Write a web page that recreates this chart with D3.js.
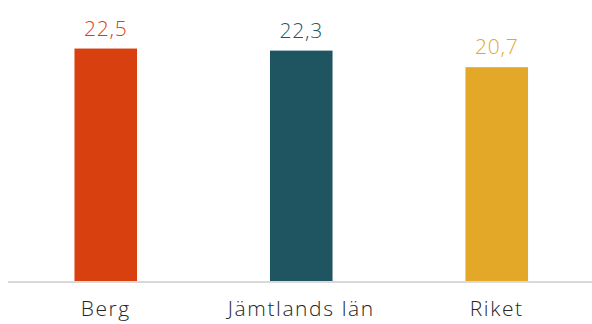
<!DOCTYPE html>
<html>
<head>
<meta charset="utf-8">
<script src="https://cdn.jsdelivr.net/npm/d3@7"></script>
<style>
  body { margin: 0; background: #fff; }
  text { font-family: "Open Sans", "Lato", sans-serif; font-weight: 300; }
</style>
</head>
<body>
<div class="chart"></div>
<script>
var svgWidth = 592;
var svgHeight = 324;

var categories = ["Berg", "Jämtlands län", "Riket"];
var values = [22.5, 22.3, 20.7];
var valueLabels = ["22,5", "22,3", "20,7"];
var barColors = ["#d9400f", "#1f5560", "#e3a828"];

var baseline = 281;

var svg = d3.select(".chart")
  .append("svg")
  .attr("width", svgWidth)
  .attr("height", svgHeight);

var x = d3.scaleBand()
  .domain(categories)
  .range([8, 594.5])
  .paddingInner(0.68)
  .paddingOuter(0.34);

var y = d3.scaleLinear()
  .domain([0, 27.2])
  .range([baseline, 0]);

// bars
svg.selectAll(".bar")
  .data(values)
  .enter()
  .append("rect")
  .attr("class", "bar")
  .attr("x", (d, i) => x(categories[i]))
  .attr("y", d => y(d))
  .attr("width", x.bandwidth())
  .attr("height", d => baseline - y(d))
  .attr("fill", (d, i) => barColors[i]);

// baseline
svg.append("line")
  .attr("x1", 8)
  .attr("x2", 592)
  .attr("y1", baseline + 1)
  .attr("y2", baseline + 1)
  .attr("stroke", "#d9d9d9")
  .attr("stroke-width", 2);

// value labels
svg.selectAll(".val")
  .data(values)
  .enter()
  .append("text")
  .attr("class", "val")
  .attr("x", (d, i) => x(categories[i]) + x.bandwidth() / 2)
  .attr("y", d => y(d) - 13)
  .attr("text-anchor", "middle")
  .attr("font-size", 21)
  .attr("letter-spacing", 0.8)
  .attr("fill", (d, i) => barColors[i])
  .text((d, i) => valueLabels[i]);

// category labels
svg.selectAll(".cat")
  .data(categories)
  .enter()
  .append("text")
  .attr("class", "cat")
  .attr("x", d => x(d) + x.bandwidth() / 2)
  .attr("y", 316)
  .attr("text-anchor", "middle")
  .attr("font-size", 21)
  .attr("letter-spacing", 1.6)
  .attr("fill", "#262626")
  .text(d => d);
</script>
</body>
</html>
